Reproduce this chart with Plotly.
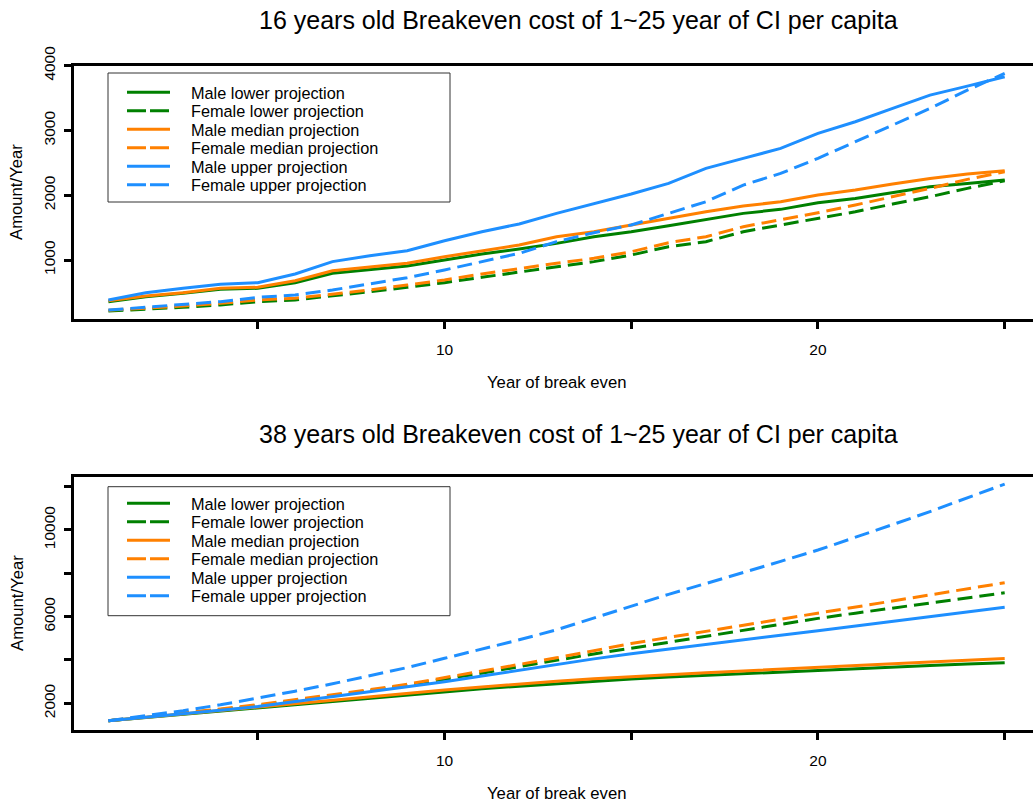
import plotly.graph_objects as go

# ---------------- data ----------------
years = list(range(1, 26))

series_names = [
    "Male lower projection",
    "Female lower projection",
    "Male median projection",
    "Female median projection",
    "Male upper projection",
    "Female upper projection",
]

# 16 years old
top_male_lower = [357, 434, 486, 548, 563, 650, 795, 856, 907, 1000, 1092, 1170, 1257,
                  1360, 1437, 1530, 1628, 1720, 1782, 1884, 1951, 2039, 2131, 2183, 2235]
top_female_lower = [213, 239, 270, 306, 357, 383, 444, 511, 579, 650, 733, 810, 897,
                    975, 1077, 1206, 1283, 1437, 1540, 1643, 1745, 1864, 1977, 2106, 2224]
top_male_median = [372, 444, 496, 563, 579, 681, 835, 897, 949, 1051, 1139, 1231, 1360,
                   1437, 1540, 1643, 1745, 1833, 1900, 2003, 2080, 2173, 2260, 2327, 2378]
top_female_median = [225, 254, 290, 332, 383, 409, 471, 537, 614, 691, 784, 872, 949,
                     1026, 1128, 1267, 1360, 1514, 1617, 1730, 1849, 1977, 2106, 2245, 2363]
top_male_upper = [383, 495, 563, 625, 650, 784, 975, 1066, 1144, 1298, 1437, 1556, 1720,
                  1864, 2019, 2183, 2415, 2569, 2723, 2955, 3135, 3340, 3546, 3685, 3829]
top_female_upper = [228, 270, 316, 357, 424, 460, 537, 630, 727, 846, 975, 1103, 1283,
                    1422, 1540, 1720, 1900, 2157, 2337, 2569, 2826, 3083, 3340, 3623, 3881]

# 38 years old
bot_male_lower = [1200, 1350, 1500, 1650, 1800, 1950, 2100, 2250, 2400, 2540, 2670, 2790, 2910,
                  3020, 3120, 3210, 3290, 3380, 3460, 3540, 3610, 3680, 3750, 3810, 3870]
bot_female_lower = [1200, 1360, 1530, 1710, 1900, 2120, 2350, 2590, 2840, 3100, 3390, 3690, 3990,
                    4280, 4540, 4820, 5100, 5380, 5650, 5920, 6160, 6400, 6640, 6870, 7100]
bot_male_median = [1200, 1360, 1510, 1670, 1830, 1990, 2150, 2310, 2460, 2610, 2750, 2890, 3020,
                   3130, 3230, 3320, 3410, 3490, 3580, 3660, 3740, 3830, 3910, 3990, 4070]
bot_female_median = [1200, 1370, 1550, 1740, 1940, 2160, 2390, 2630, 2880, 3180, 3480, 3790, 4100,
                     4430, 4760, 5040, 5320, 5600, 5880, 6160, 6440, 6720, 7000, 7280, 7565]
bot_male_upper = [1200, 1350, 1510, 1680, 1850, 2070, 2290, 2520, 2760, 3000, 3270, 3540, 3800,
                  4050, 4290, 4510, 4720, 4930, 5140, 5350, 5570, 5790, 6000, 6220, 6430]
bot_female_upper = [1200, 1420, 1660, 1930, 2230, 2560, 2900, 3260, 3650, 4077, 4500, 4930, 5390,
                    5930, 6500, 7030, 7530, 8030, 8550, 9075, 9650, 10250, 10850, 11480, 12120]

x_tick_vals = [5, 10, 15, 20, 25]
x_tick_text = ["", "10", "", "20", ""]
top_y_tick_vals = [1000, 2000, 3000, 4000]
top_y_tick_text = ["1000", "2000", "3000", "4000"]
bot_y_tick_vals = [2000, 4000, 6000, 8000, 10000, 12000]
bot_y_tick_text = ["2000", "", "6000", "", "10000", ""]

top_title = "16 years old Breakeven cost of 1~25 year of CI per capita"
bot_title = "38 years old Breakeven cost of 1~25 year of CI per capita"
x_title = "Year of break even"
y_title = "Amount/Year"

# ---------------- style ----------------
W, H = 1033, 802
FONT = "Liberation Sans, Arial, Helvetica, sans-serif"
GREEN, ORANGE, BLUE = "#008000", "#FF8000", "#1E8FFF"
colors = [GREEN, GREEN, ORANGE, ORANGE, BLUE, BLUE]
dashes = ["solid", "15px,7px"] * 3
legend_dashes = ["solid", "19px,4px"] * 3


def fx(px):
    return px / W


def fy(py):
    return 1 - py / H


top_data = [top_male_lower, top_female_lower, top_male_median,
            top_female_median, top_male_upper, top_female_upper]
bot_data = [bot_male_lower, bot_female_lower, bot_male_median,
            bot_female_median, bot_male_upper, bot_female_upper]

fig = go.Figure()
for name, c, d, yt in zip(series_names, colors, dashes, top_data):
    fig.add_trace(go.Scatter(
        x=years, y=yt, mode="lines", name=name, showlegend=False,
        line=dict(color=c, width=3, dash=d), xaxis="x", yaxis="y"))
for name, c, d, yb in zip(series_names, colors, dashes, bot_data):
    fig.add_trace(go.Scatter(
        x=years, y=yb, mode="lines", name=name, showlegend=False,
        line=dict(color=c, width=3, dash=d), xaxis="x2", yaxis="y2"))

axis_common = dict(
    showline=True, linecolor="black", linewidth=3,
    ticks="outside", ticklen=7, tickwidth=3, tickcolor="black",
    showgrid=False, zeroline=False, automargin=False,
    tickfont=dict(family=FONT, size=15.5, color="black"),
)

x_dom = [fx(73.5), 1.0]
x_range = [0.0655, 25.758]

fig.update_layout(
    width=W, height=H,
    margin=dict(l=0, r=0, t=0, b=0),
    paper_bgcolor="white", plot_bgcolor="white",
    font=dict(family=FONT, color="black"),
    showlegend=False,
    xaxis=dict(domain=x_dom, range=x_range, anchor="y", mirror=True,
               tickvals=x_tick_vals, ticktext=x_tick_text,
               ticklabelstandoff=8, **axis_common),
    yaxis=dict(domain=[fy(318.5), fy(65.5)], range=[97, 4003], anchor="x",
               tickvals=top_y_tick_vals, ticktext=top_y_tick_text,
               tickangle=-90, ticklabelstandoff=2, **axis_common),
    xaxis2=dict(domain=x_dom, range=x_range, anchor="y2", mirror=True,
                tickvals=x_tick_vals, ticktext=x_tick_text,
                ticklabelstandoff=8, **axis_common),
    yaxis2=dict(domain=[fy(729.5), fy(476.5)], range=[791, 12469], anchor="x2",
                tickvals=bot_y_tick_vals, ticktext=bot_y_tick_text,
                tickangle=-90, ticklabelstandoff=2, **axis_common),
)

# legends (frame, line samples, labels)
for box_top, first_row in ((73, 92.3), (486.7, 503.3)):
    fig.add_shape(type="rect", xref="paper", yref="paper",
                  x0=fx(108), x1=fx(450), y0=fy(box_top), y1=fy(box_top + 129),
                  line=dict(color="#333333", width=1), fillcolor="rgba(0,0,0,0)")
    for i, (name, c, d) in enumerate(zip(series_names, colors, legend_dashes)):
        yy = first_row + 18.5 * i
        fig.add_shape(type="line", xref="paper", yref="paper",
                      x0=fx(127), x1=fx(170), y0=fy(yy), y1=fy(yy),
                      line=dict(color=c, width=3, dash=d))
        fig.add_annotation(text=name, x=fx(189), y=fy(yy + 0.5), xref="paper", yref="paper",
                           xanchor="left", yanchor="middle", showarrow=False,
                           font=dict(family=FONT, size=16.3, color="black"))

annos = [
    (top_title, 578, 20, 25, 0),
    (bot_title, 578, 434, 25, 0),
    (x_title, 556, 382, 16.7, 0),
    (x_title, 556, 793, 16.7, 0),
    (y_title, 17, 192, 16.7, -90),
    (y_title, 17, 603, 16.7, -90),
]
for text, px, py, size, ang in annos:
    fig.add_annotation(text=text, x=fx(px), y=fy(py), xref="paper", yref="paper",
                       xanchor="center", yanchor="middle", showarrow=False,
                       textangle=ang, font=dict(family=FONT, size=size, color="black"))

fig.write_html("out.html")
